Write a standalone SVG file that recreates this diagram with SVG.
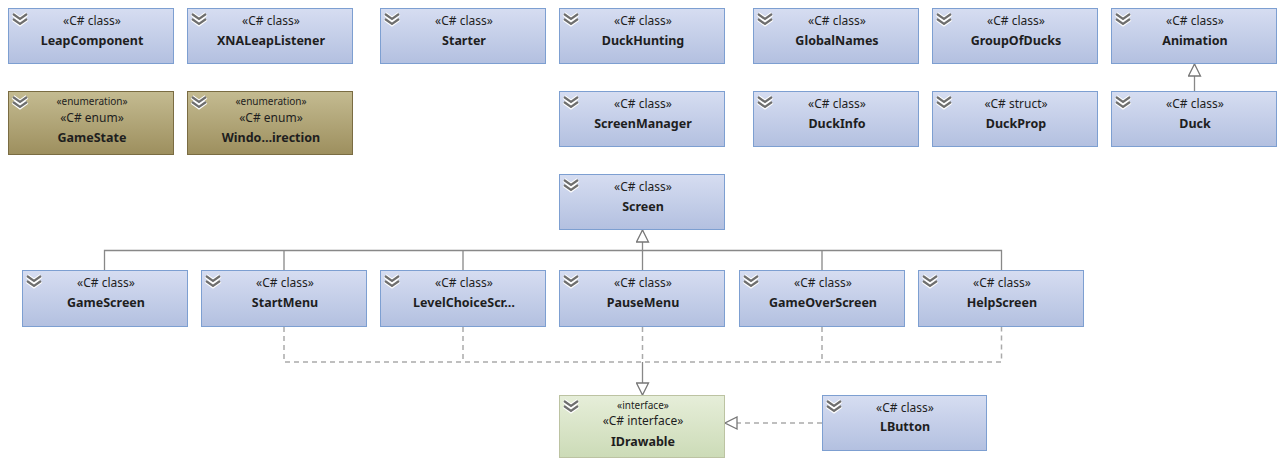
<svg xmlns="http://www.w3.org/2000/svg" xmlns:xlink="http://www.w3.org/1999/xlink" width="1287" height="470" viewBox="0 0 1287 470">
<style>
text{font-family:"Noto Sans","Open Sans","DejaVu Sans",sans-serif;fill:#1e1e1e;text-anchor:middle}
.st{font-size:12px}
.sm{font-size:10px}
.nm{font-size:12.5px;font-weight:bold}
.cls{fill:url(#gCls);stroke:#7d9fd1;stroke-width:1}
.enm{fill:url(#gEnm);stroke:#7a6c42;stroke-width:1}
.itf{fill:url(#gItf);stroke:#bcc3a2;stroke-width:1}
.sol{fill:none;stroke:#888;stroke-width:1.3}
.dsh{fill:none;stroke:#aaa;stroke-width:1.5;stroke-dasharray:5,4}
</style>
<defs>
<linearGradient id="gCls" x1="0" y1="0" x2="0" y2="1"><stop offset="0" stop-color="#d6ddf1"/><stop offset="1" stop-color="#b3c0e0"/></linearGradient>
<linearGradient id="gEnm" x1="0" y1="0" x2="0" y2="1"><stop offset="0" stop-color="#c4bb91"/><stop offset="1" stop-color="#9d8f5e"/></linearGradient>
<linearGradient id="gItf" x1="0" y1="0" x2="0" y2="1"><stop offset="0" stop-color="#e6eed9"/><stop offset="1" stop-color="#ccdbb7"/></linearGradient>
<g id="chev">
<path d="M5,6 L12,11 L19,6 M5,11 L12,16 L19,11" fill="none" stroke="#fff" stroke-width="4.5" stroke-linejoin="miter"/>
<path d="M5,6 L12,11 L19,6 M5,11 L12,16 L19,11" fill="none" stroke="#6e6e6e" stroke-width="2.2"/>
</g>
<marker id="tri" markerUnits="userSpaceOnUse" markerWidth="14" markerHeight="14" refX="12" refY="6" orient="auto" viewBox="-1 -1 14 14">
<path d="M0,0 L12,6 L0,12 z" fill="#fff" stroke="#777" stroke-width="1.3"/>
</marker>
</defs>
<rect width="1287" height="470" fill="#fff"/>

<g id="connectors">
<path class="sol" d="M1194.5,91 V64" marker-end="url(#tri)"/>
<path class="sol" d="M104.5,270 V250.5 H1001.5 V270 M284,250.5 V270 M463,250.5 V270 M822,250.5 V270"/>
<path class="sol" d="M642.5,270 V230" marker-end="url(#tri)"/>
<path class="dsh" d="M284,327 V362 H1001.5 V327 M463,327 V362 M642.5,327 V362 M822,327 V362"/>
<path class="sol" d="M642.5,362 V395" marker-end="url(#tri)"/>
<path class="dsh" d="M822,423 H725" marker-end="url(#tri)"/>
</g>

<g id="LeapComponent"><rect class="cls" x="8.5" y="8.5" width="165" height="55"/><use xlink:href="#chev" x="8" y="8"/><text class="st" x="92" y="25">«C# class»</text><text class="nm" x="92" y="45">LeapComponent</text></g>
<g id="XNALeapListener"><rect class="cls" x="187.5" y="8.5" width="165" height="55"/><use xlink:href="#chev" x="187" y="8"/><text class="st" x="271" y="25">«C# class»</text><text class="nm" x="271" y="45">XNALeapListener</text></g>
<g id="Starter"><rect class="cls" x="380.5" y="8.5" width="165" height="55"/><use xlink:href="#chev" x="380" y="8"/><text class="st" x="464" y="25">«C# class»</text><text class="nm" x="464" y="45">Starter</text></g>
<g id="DuckHunting"><rect class="cls" x="559.5" y="8.5" width="165" height="55"/><use xlink:href="#chev" x="559" y="8"/><text class="st" x="643" y="25">«C# class»</text><text class="nm" x="643" y="45">DuckHunting</text></g>
<g id="GlobalNames"><rect class="cls" x="753.5" y="8.5" width="165" height="55"/><use xlink:href="#chev" x="753" y="8"/><text class="st" x="837" y="25">«C# class»</text><text class="nm" x="837" y="45">GlobalNames</text></g>
<g id="GroupOfDucks"><rect class="cls" x="932.5" y="8.5" width="165" height="55"/><use xlink:href="#chev" x="932" y="8"/><text class="st" x="1016" y="25">«C# class»</text><text class="nm" x="1016" y="45">GroupOfDucks</text></g>
<g id="Animation"><rect class="cls" x="1111.5" y="8.5" width="165" height="55"/><use xlink:href="#chev" x="1111" y="8"/><text class="st" x="1195" y="25">«C# class»</text><text class="nm" x="1195" y="45">Animation</text></g>

<g id="GameState"><rect class="enm" x="8.5" y="91.5" width="165" height="63"/><use xlink:href="#chev" x="8" y="91"/><text class="sm" x="92" y="105">«enumeration»</text><text class="st" x="92" y="121.5">«C# enum»</text><text class="nm" x="92" y="142">GameState</text></g>
<g id="WindowDirection"><rect class="enm" x="187.5" y="91.5" width="165" height="63"/><use xlink:href="#chev" x="187" y="91"/><text class="sm" x="271" y="105">«enumeration»</text><text class="st" x="271" y="121.5">«C# enum»</text><text class="nm" x="271" y="142">Windo…irection</text></g>
<g id="ScreenManager"><rect class="cls" x="559.5" y="91.5" width="165" height="55"/><use xlink:href="#chev" x="559" y="91"/><text class="st" x="643" y="108">«C# class»</text><text class="nm" x="643" y="128">ScreenManager</text></g>
<g id="DuckInfo"><rect class="cls" x="753.5" y="91.5" width="165" height="55"/><use xlink:href="#chev" x="753" y="91"/><text class="st" x="837" y="108">«C# class»</text><text class="nm" x="837" y="128">DuckInfo</text></g>
<g id="DuckProp"><rect class="cls" x="932.5" y="91.5" width="165" height="55"/><use xlink:href="#chev" x="932" y="91"/><text class="st" x="1016" y="108">«C# struct»</text><text class="nm" x="1016" y="128">DuckProp</text></g>
<g id="Duck"><rect class="cls" x="1111.5" y="91.5" width="165" height="55"/><use xlink:href="#chev" x="1111" y="91"/><text class="st" x="1195" y="108">«C# class»</text><text class="nm" x="1195" y="128">Duck</text></g>

<g id="Screen"><rect class="cls" x="559.5" y="174.5" width="165" height="55"/><use xlink:href="#chev" x="559" y="174"/><text class="st" x="643" y="191">«C# class»</text><text class="nm" x="643" y="211">Screen</text></g>

<g id="GameScreen"><rect class="cls" x="22.5" y="270.5" width="165" height="56"/><use xlink:href="#chev" x="22" y="270"/><text class="st" x="106" y="287">«C# class»</text><text class="nm" x="106" y="307">GameScreen</text></g>
<g id="StartMenu"><rect class="cls" x="201.5" y="270.5" width="165" height="56"/><use xlink:href="#chev" x="201" y="270"/><text class="st" x="285" y="287">«C# class»</text><text class="nm" x="285" y="307">StartMenu</text></g>
<g id="LevelChoiceScreen"><rect class="cls" x="380.5" y="270.5" width="165" height="56"/><use xlink:href="#chev" x="380" y="270"/><text class="st" x="464" y="287">«C# class»</text><text class="nm" x="464" y="307">LevelChoiceScr…</text></g>
<g id="PauseMenu"><rect class="cls" x="559.5" y="270.5" width="165" height="56"/><use xlink:href="#chev" x="559" y="270"/><text class="st" x="643" y="287">«C# class»</text><text class="nm" x="643" y="307">PauseMenu</text></g>
<g id="GameOverScreen"><rect class="cls" x="739.5" y="270.5" width="165" height="56"/><use xlink:href="#chev" x="739" y="270"/><text class="st" x="823" y="287">«C# class»</text><text class="nm" x="823" y="307">GameOverScreen</text></g>
<g id="HelpScreen"><rect class="cls" x="918.5" y="270.5" width="165" height="56"/><use xlink:href="#chev" x="918" y="270"/><text class="st" x="1002" y="287">«C# class»</text><text class="nm" x="1002" y="307">HelpScreen</text></g>

<g id="IDrawable"><rect class="itf" x="559.5" y="395.5" width="165" height="62"/><use xlink:href="#chev" x="559" y="395"/><text class="sm" x="643" y="409">«interface»</text><text class="st" x="643" y="425">«C# interface»</text><text class="nm" x="643" y="445.5">IDrawable</text></g>
<g id="LButton"><rect class="cls" x="822.5" y="395.5" width="164" height="55"/><use xlink:href="#chev" x="822" y="395"/><text class="st" x="905" y="412">«C# class»</text><text class="nm" x="905" y="431">LButton</text></g>
</svg>
